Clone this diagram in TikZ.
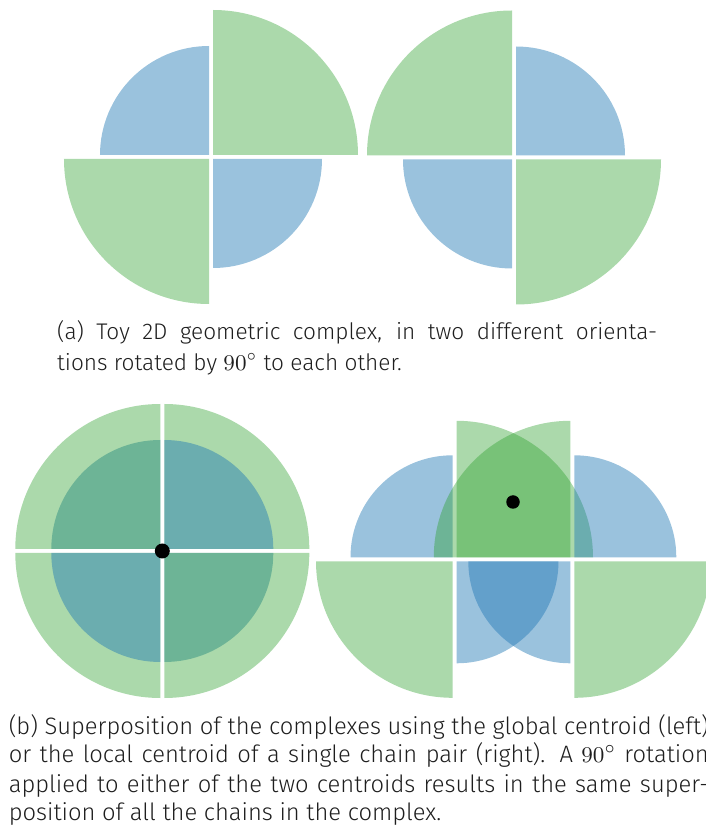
\documentclass[tikz,border=0pt]{standalone}
\usepackage{fontspec}
\setmainfont{Fira Sans Light}
\usepackage{xcolor}
\usepackage{tikz}

\definecolor{chaingreen}{RGB}{44,160,44}
\definecolor{chainblue}{RGB}{31,119,180}
\definecolor{captext}{RGB}{30,30,30}

\newdimen\pxunit \pxunit=0.4pt

% quarter disc: centre, start angle, radius, style
\newcommand{\quarterdisc}[4]{%
  \fill[#4] (#1) ++({#2+45}:2.83) -- ++(#2:#3)
    arc[start angle=#2, delta angle=90, radius=#3] -- cycle;}

% complex in first orientation: centre, big radius, small radius
\newcommand{\complexA}[3]{%
  \quarterdisc{#1}{0}{#2}{greenchain}
  \quarterdisc{#1}{90}{#3}{bluechain}
  \quarterdisc{#1}{180}{#2}{greenchain}
  \quarterdisc{#1}{270}{#3}{bluechain}}

% same complex turned by 90 degrees
\newcommand{\complexB}[3]{%
  \quarterdisc{#1}{90}{#2}{greenchain}
  \quarterdisc{#1}{0}{#3}{bluechain}
  \quarterdisc{#1}{270}{#2}{greenchain}
  \quarterdisc{#1}{180}{#3}{bluechain}}

\begin{document}
\begin{tikzpicture}[
  x=\pxunit, y=\pxunit,
  greenchain/.style={fill=chaingreen, fill opacity=0.4},
  bluechain/.style={fill=chainblue, fill opacity=0.45},
  centroid/.style={circle, fill=black, inner sep=0pt, minimum size=#1},
  capline/.style={anchor=base west, inner sep=0pt, text=captext},
  capa/.style={capline, font=\fontsize{9.05pt}{11pt}\selectfont},
  capb/.style={capline, font=\fontsize{9.5pt}{11pt}\selectfont}
]
\useasboundingbox (0,0) rectangle (706,828);
\clip (0,0) rectangle (706,828);

\coordinate (topA) at (211,671);
\coordinate (topB) at (514,670.5);
\coordinate (globalsup) at (162.3,277);
\coordinate (localA) at (454.5,268.7);
\coordinate (localB) at (572.3,268.7);

% (a) the two orientations
\complexA{topA}{145}{109}
\complexB{topB}{145}{109}

\node[capa] (capA1) at (56.7,488.5)
  {\makebox[240pt][s]{(a) Toy 2D geometric complex, in two different orienta-}};
\node[capa] (capA2) at (56.7,457.5) {tions rotated by $90^\circ$ to each other.};

% (b) global centroid
\complexA{globalsup}{145}{109}
\complexB{globalsup}{145}{109}
\node[centroid=6pt] (globaldot) at (globalsup) {};

% (b) local centroid
\complexA{localA}{136.5}{102}
\complexB{localB}{136.5}{102}
\node[centroid=5.4pt] (localdot) at (513,326) {};

\node[capb] (capB1) at (8.3,94)
  {\makebox[280pt][s]{(b) Superposition of the complexes using the global centroid (left)}};
\node[capb] (capB2) at (8.3,65)
  {\makebox[280pt][s]{or the local centroid of a single chain pair (right). A $90^\circ$ rotation}};
\node[capb] (capB3) at (8.3,36)
  {\makebox[280pt][s]{applied to either of the two centroids results in the same super-}};
\node[capb] (capB4) at (8.3,7) {position of all the chains in the complex.};
\end{tikzpicture}
\end{document}
